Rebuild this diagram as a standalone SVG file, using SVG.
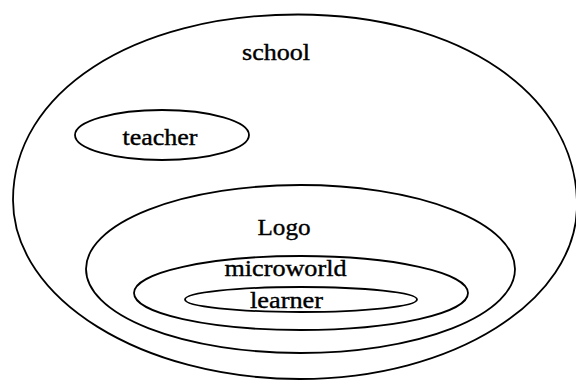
<svg xmlns="http://www.w3.org/2000/svg" width="576" height="381" viewBox="0 0 576 381">
<style>
.ring{fill:none;stroke:#000;stroke-width:1.8}
.lbl{font-family:"Liberation Serif","Times New Roman",serif;font-size:24px;fill:#000;stroke:#000;stroke-width:0.4;text-anchor:middle}
</style>
<rect width="576" height="381" fill="#fff"/>
<g id="school">
<path class="ring" d="M298,14.5 C460,14.5 577,94.5 577,205 C577,301 453,379 300,379 C142,379 13,299 13,200 C13,92.4 132.7,14.5 298,14.5 Z"/>
<text class="lbl" x="276" y="60" textLength="68" lengthAdjust="spacingAndGlyphs">school</text>
</g>
<g id="teacher">
<ellipse class="ring" cx="162" cy="135" rx="87" ry="25"/>
<text class="lbl" x="160" y="145" textLength="75" lengthAdjust="spacingAndGlyphs">teacher</text>
</g>
<g id="logo">
<ellipse class="ring" cx="300.5" cy="269" rx="214.5" ry="84"/>
<text class="lbl" x="284" y="235" textLength="53" lengthAdjust="spacingAndGlyphs">Logo</text>
</g>
<g id="microworld">
<ellipse class="ring" cx="301" cy="293" rx="167" ry="37"/>
<text class="lbl" x="285.5" y="276" textLength="122" lengthAdjust="spacingAndGlyphs">microworld</text>
</g>
<g id="learner">
<ellipse class="ring" cx="301" cy="299.5" rx="116" ry="12.5"/>
<text class="lbl" x="286.5" y="308" textLength="73" lengthAdjust="spacingAndGlyphs">learner</text>
</g>
<g id="connectors"/>
</svg>
